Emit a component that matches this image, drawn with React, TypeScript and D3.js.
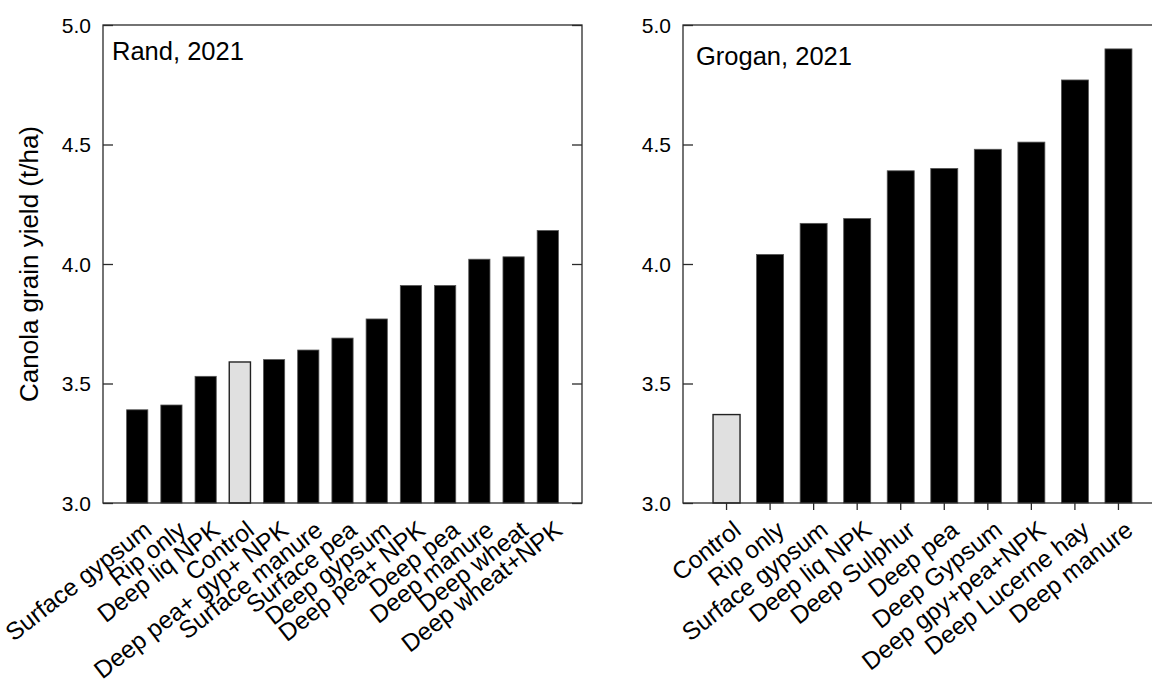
import React, { useEffect, useRef } from 'react';
import * as d3 from 'd3';

// Rand site, 2021
const randTreatments = [
  'Surface gypsum', 'Rip only', 'Deep liq NPK', 'Control', 'Deep pea+ gyp+ NPK',
  'Surface manure', 'Surface pea', 'Deep gypsum', 'Deep pea+ NPK', 'Deep pea',
  'Deep manure', 'Deep wheat', 'Deep wheat+NPK',
];
const randYield = [3.39, 3.41, 3.53, 3.59, 3.6, 3.64, 3.69, 3.77, 3.91, 3.91, 4.02, 4.03, 4.14];

// Grogan site, 2021
const groganTreatments = [
  'Control', 'Rip only', 'Surface gypsum', 'Deep liq NPK', 'Deep Sulphur',
  'Deep pea', 'Deep Gypsum', 'Deep gpy+pea+NPK', 'Deep Lucerne hay', 'Deep manure',
];
const groganYield = [3.37, 4.04, 4.17, 4.19, 4.39, 4.4, 4.48, 4.51, 4.77, 4.9];

const yTicks = [3.0, 3.5, 4.0, 4.5, 5.0];
const yLabel = 'Canola grain yield (t/ha)';

const FONT = '"Liberation Sans", Arial, Helvetica, sans-serif';

const App = () => {
  const ref = useRef<SVGSVGElement>(null);

  useEffect(() => {
    const svg = d3.select(ref.current);
    svg.selectAll('*').remove();

    const top = 25;
    const bottom = 503;
    const plotW = 479;

    const y = d3.scaleLinear().domain([3, 5]).range([bottom, top]);

    const panel = (
      left: number,
      names: string[],
      values: number[],
      title: string,
      titlePos: [number, number],
      xTicks: boolean,
    ) => {
      const x = d3.scaleBand<string>()
        .domain(names)
        .range([left, left + plotW])
        .paddingInner(0.38)
        .paddingOuter(0.69);

      const g = svg.append('g');

      // bars
      g.selectAll('rect.bar')
        .data(names)
        .join('rect')
        .attr('class', 'bar')
        .attr('x', d => x(d)!)
        .attr('width', x.bandwidth())
        .attr('y', (d, i) => y(values[i]))
        .attr('height', (d, i) => bottom - y(values[i]))
        .attr('fill', d => (d === 'Control' ? '#e0e0e0' : '#000'))
        .attr('stroke', d => (d === 'Control' ? '#222' : '#555'))
        .attr('stroke-width', d => (d === 'Control' ? 1.4 : 0.8));

      // frame
      g.append('rect')
        .attr('x', left)
        .attr('y', top)
        .attr('width', plotW)
        .attr('height', bottom - top)
        .attr('fill', 'none')
        .attr('stroke', '#2a2a2a')
        .attr('stroke-width', 1.3);

      // left axis, ticks pointing in
      const yl = g.append('g').attr('transform', `translate(${left},0)`)
        .call(d3.axisRight(y).tickValues(yTicks).tickSize(10).tickFormat(() => ''));
      yl.select('.domain').remove();
      yl.selectAll('line').attr('stroke', '#2a2a2a').attr('stroke-width', 1.3);

      // right axis, ticks pointing in
      const yr = g.append('g').attr('transform', `translate(${left + plotW},0)`)
        .call(d3.axisLeft(y).tickValues(yTicks).tickSize(10).tickFormat(() => ''));
      yr.select('.domain').remove();
      yr.selectAll('line').attr('stroke', '#2a2a2a').attr('stroke-width', 1.3);

      // y tick labels
      g.selectAll('text.ytick')
        .data(yTicks)
        .join('text')
        .attr('class', 'ytick')
        .attr('x', left - 12)
        .attr('y', d => y(d))
        .attr('dy', '0.36em')
        .attr('text-anchor', 'end')
        .attr('font-size', 21)
        .attr('font-family', FONT)
        .attr('fill', '#000')
        .text(d => d.toFixed(1));

      if (xTicks) {
        const xa = g.append('g').attr('transform', `translate(0,${bottom})`)
          .call(d3.axisBottom(x).tickSize(7).tickFormat(() => ''));
        xa.select('.domain').remove();
        xa.selectAll('line').attr('stroke', '#2a2a2a').attr('stroke-width', 1.3);
      }

      // x labels
      g.selectAll('text.xlab')
        .data(names)
        .join('text')
        .attr('class', 'xlab')
        .attr('text-anchor', 'end')
        .attr('font-size', 24.5)
        .attr('font-family', FONT)
        .attr('fill', '#000')
        .attr('transform', d => `translate(${x(d)! + x.bandwidth() / 2 + 16},${bottom + 30}) rotate(-38)`)
        .text(d => d);

      g.append('text')
        .attr('x', titlePos[0])
        .attr('y', titlePos[1])
        .attr('font-size', 25.5)
        .attr('font-family', FONT)
        .attr('fill', '#000')
        .text(title);
    };

    panel(103, randTreatments, randYield, 'Rand, 2021', [112, 60], false);
    panel(683, groganTreatments, groganYield, 'Grogan, 2021', [696, 65], true);

    svg.append('text')
      .attr('transform', `translate(38,${(top + bottom) / 2}) rotate(-90)`)
      .attr('text-anchor', 'middle')
      .attr('font-size', 26)
      .attr('font-family', FONT)
      .attr('fill', '#000')
      .text(yLabel);
  }, []);

  return (
    <svg
      ref={ref}
      width={1152}
      height={689}
      style={{ position: 'fixed', left: 0, top: 0, background: '#fff' }}
    />
  );
};

export default App;
